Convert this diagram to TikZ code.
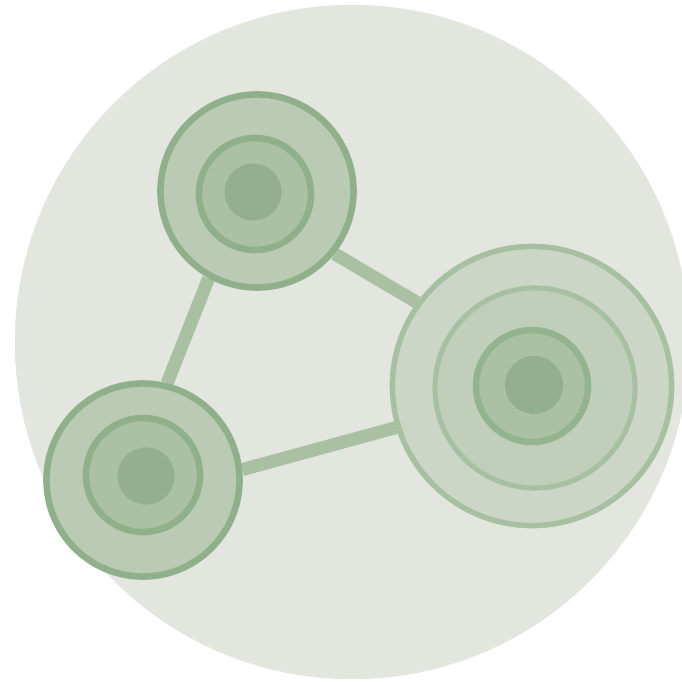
\documentclass[tikz,border=0pt]{standalone}
\usetikzlibrary{backgrounds}
\definecolor{discgray}{HTML}{E3E6DF}
\definecolor{linkgreen}{HTML}{A9C0A2}
\definecolor{rimdark}{HTML}{8FB08A}
\definecolor{rimlight}{HTML}{A8C0A2}
\definecolor{cellpale}{HTML}{CCD6C6}
\definecolor{cellmid}{HTML}{BACAB3}
\definecolor{cellring}{HTML}{C1CFBA}
\definecolor{cellinner}{HTML}{AAC1A3}
\definecolor{cellcore}{HTML}{93AF8E}

\begin{document}
\begin{tikzpicture}[x=0.01cm, y=-0.01cm,
  blob/.style={circle, inner sep=0pt, line width=0.065cm},
  core/.style={circle, inner sep=0pt, fill=cellcore, minimum size=0.57cm},
  link/.style={line width=0.13cm, draw=linkgreen}]
\useasboundingbox (0,0) rectangle (682,682);
% top cell
\node[blob, fill=cellmid, draw=rimdark, minimum size=1.93cm] (top) at (257,191) {};
\node[blob, fill=cellinner, draw=rimdark, minimum size=1.12cm] (topring) at (255,194) {};
\node[core] (topcore) at (253,192) {};
% left cell
\node[blob, fill=cellmid, draw=rimdark, minimum size=1.93cm] (left) at (143,480) {};
\node[blob, fill=cellinner, draw=rimdark, minimum size=1.14cm] (leftring) at (143,475) {};
\node[core] (leftcore) at (146,476) {};
% right cell
\node[blob, fill=cellpale, draw=rimlight, line width=0.055cm, minimum size=2.79cm] (right) at (532,386) {};
\node[blob, fill=cellring, draw=rimlight, line width=0.05cm, minimum size=2.0cm] (rightring) at (535,388) {};
\node[blob, fill=cellinner, draw=rimdark!80!rimlight, minimum size=1.12cm] (rightinner) at (532,386) {};
\node[core, minimum size=0.58cm] (rightcore) at (534,385) {};
% disc and links
\begin{scope}[on background layer]
\fill[discgray] (352,342) circle (3.37cm);
\draw[link] (top.241) -- (left.76);
\draw[link] (top.321) -- (right.144);
\draw[link] (left.6) -- (right.197);
\end{scope}
\end{tikzpicture}
\end{document}
